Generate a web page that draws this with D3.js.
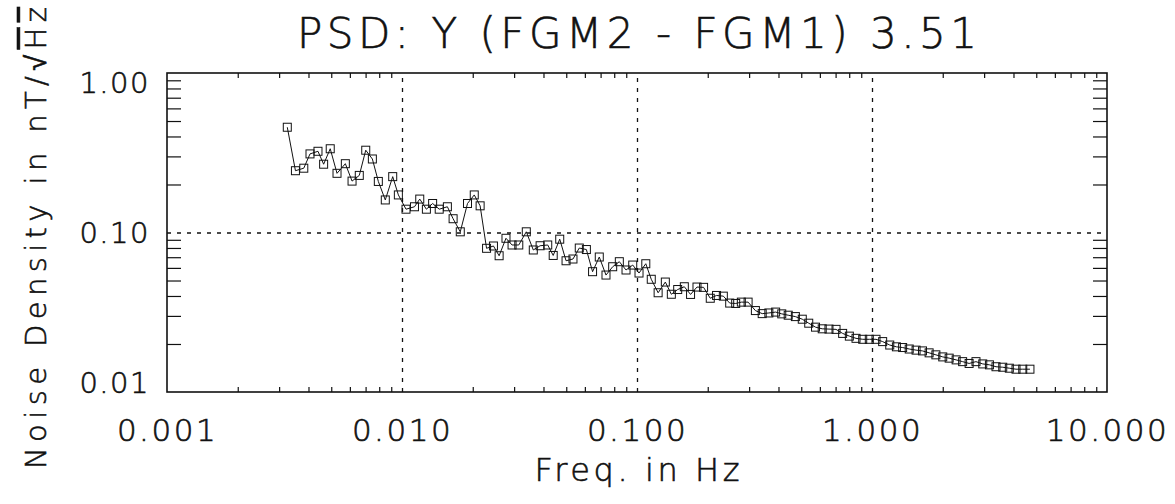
<!DOCTYPE html>
<html>
<head>
<meta charset="utf-8">
<script src="https://cdn.jsdelivr.net/npm/d3@7"></script>
<style>
  html, body { margin: 0; padding: 0; background: #fff; }
  svg { display: block; font-family: "DejaVu Sans", sans-serif; font-weight: 200; }
  svg text { stroke: #111; stroke-width: 0.6px; }
</style>
</head>
<body>
<svg id="chart" width="1175" height="504"></svg>
<script>
// Frequency bins (Hz) of the Y-axis difference spectrum
const freqHz = [
  0.00325, 0.00352, 0.00382, 0.00406, 0.00439, 0.00464, 0.00495, 0.00529, 0.00574, 0.00613,
  0.00658, 0.00701, 0.00748, 0.00793, 0.00849, 0.00913, 0.00965, 0.0104, 0.0113, 0.0119,
  0.0127, 0.0135, 0.0144, 0.0156, 0.0165, 0.0177, 0.0190, 0.0203, 0.0215, 0.0229,
  0.0245, 0.0259, 0.0277, 0.0294, 0.0314, 0.0338, 0.0362, 0.0387, 0.0417, 0.0440,
  0.0469, 0.0499, 0.0534, 0.0568, 0.0609, 0.0647, 0.0691, 0.0738, 0.0788, 0.0841,
  0.0898, 0.0959, 0.102, 0.109, 0.115, 0.123, 0.132, 0.140, 0.149, 0.159,
  0.169, 0.180, 0.192, 0.205, 0.218, 0.233, 0.248, 0.263, 0.278, 0.297,
  0.319, 0.341, 0.364, 0.389, 0.413, 0.440, 0.472, 0.505, 0.538, 0.575,
  0.614, 0.656, 0.703, 0.750, 0.801, 0.855, 0.913, 0.974, 1.04, 1.11,
  1.19, 1.27, 1.35, 1.44, 1.54, 1.64, 1.75, 1.87, 2.00, 2.13,
  2.28, 2.43, 2.59, 2.77, 2.96, 3.16, 3.37, 3.60, 3.84, 4.10,
  4.38, 4.70
];

// Noise density (nT/sqrt(Hz)) of FGM2 - FGM1, one value per bin
const noiseDensity = [
  0.457, 0.244, 0.253, 0.311, 0.323, 0.268, 0.335, 0.235, 0.270, 0.210,
  0.228, 0.328, 0.289, 0.209, 0.160, 0.224, 0.172, 0.140, 0.145, 0.162,
  0.140, 0.152, 0.140, 0.145, 0.122, 0.101, 0.152, 0.172, 0.147, 0.0796,
  0.0823, 0.0715, 0.0920, 0.0835, 0.0835, 0.101, 0.0777, 0.0826, 0.0835, 0.0718,
  0.0908, 0.0665, 0.0682, 0.0799, 0.0782, 0.0568, 0.0702, 0.0541, 0.0610, 0.0656,
  0.0582, 0.0625, 0.0557, 0.0637, 0.0509, 0.0419, 0.0489, 0.0410, 0.0439, 0.0457,
  0.0409, 0.0455, 0.0453, 0.0387, 0.0403, 0.0399, 0.0361, 0.0359, 0.0366, 0.0366,
  0.0324, 0.0310, 0.0313, 0.0317, 0.0309, 0.0303, 0.0297, 0.0286, 0.0270, 0.0255,
  0.0249, 0.0248, 0.0247, 0.0233, 0.0224, 0.0217, 0.0214, 0.0214, 0.0214, 0.0207,
  0.0197, 0.0192, 0.0190, 0.0186, 0.0183, 0.0181, 0.0176, 0.0171, 0.0166, 0.0163,
  0.0159, 0.0155, 0.0151, 0.0155, 0.0150, 0.0148, 0.0144, 0.0143, 0.0141, 0.0139,
  0.0139, 0.0139
];

const xTickValues = [0.001, 0.01, 0.1, 1, 10];
const xTickLabels = ["0.001", "0.010", "0.100", "1.000", "10.000"];
const yTickValues = [0.01, 0.1, 1];
const yTickLabels = ["0.01", "0.10", "1.00"];
const xGridValues = [0.01, 0.1, 1];
const yGridValues = [0.1];

const titleText = "PSD: Y (FGM2 - FGM1) 3.51";
const xTitle = "Freq. in Hz";

(function draw() {
  const svg = d3.select("#chart");
  const pl = 167, pr = 1107, pt = 73, pb = 392;
  const W = pr - pl, H = pb - pt;

  svg.append("rect").attr("width", 1175).attr("height", 504).attr("fill", "#fff");

  const x = d3.scaleLog().domain([0.001, 10]).range([pl, pr]);
  const y = d3.scaleLog().domain([0.01, 1]).range([pb, pt]);

  // minor tick positions: 2..9 within each decade
  function minorTicks(lo, hi) {
    const out = [];
    for (let d = lo; d < hi * 0.999; d *= 10) {
      for (let k = 2; k <= 9; k++) out.push(+(k * d).toPrecision(3));
    }
    return out;
  }
  const xMinor = minorTicks(0.001, 10);
  const yMinor = minorTicks(0.01, 1);

  const ink = "#111";

  // dotted grid at the major decades
  const gridX = svg.append("g").attr("transform", `translate(0,${pb})`)
    .call(d3.axisBottom(x).tickValues(xGridValues).tickSize(-H).tickFormat(""));
  const gridY = svg.append("g").attr("transform", `translate(${pl},0)`)
    .call(d3.axisLeft(y).tickValues(yGridValues).tickSize(-W).tickFormat(""));
  [gridX, gridY].forEach(g => {
    g.select(".domain").remove();
    g.selectAll("line").attr("stroke", ink).attr("stroke-width", 1.3).attr("stroke-dasharray", "4,6");
  });

  // minor ticks on all four sides, pointing inward
  const minorAxes = [
    svg.append("g").attr("transform", `translate(0,${pb})`).call(d3.axisBottom(x).tickValues(xMinor).tickSize(-5).tickFormat("")),
    svg.append("g").attr("transform", `translate(0,${pt})`).call(d3.axisTop(x).tickValues(xMinor).tickSize(-5).tickFormat("")),
    svg.append("g").attr("transform", `translate(${pl},0)`).call(d3.axisLeft(y).tickValues(yMinor).tickSize(-14).tickFormat("")),
    svg.append("g").attr("transform", `translate(${pr},0)`).call(d3.axisRight(y).tickValues(yMinor).tickSize(-14).tickFormat(""))
  ];
  minorAxes.forEach(g => {
    g.select(".domain").remove();
    g.selectAll("line").attr("stroke", ink).attr("stroke-width", 1.2);
  });

  // plot frame
  svg.append("rect")
    .attr("x", pl).attr("y", pt).attr("width", W).attr("height", H)
    .attr("fill", "none").attr("stroke", ink).attr("stroke-width", 1.6);

  // x tick labels
  const xLab = svg.append("g").attr("transform", `translate(0,${pb})`)
    .call(d3.axisBottom(x).tickValues(xTickValues).tickSize(0).tickFormat((d, i) => xTickLabels[i]));
  xLab.select(".domain").remove();
  xLab.selectAll("text")
    .attr("y", 49).attr("dy", null)
    .attr("font-size", 31).attr("letter-spacing", 2.5).attr("fill", ink)
    .attr("font-family", "DejaVu Sans").attr("font-weight", 200);

  // y tick labels
  const yLab = svg.append("g").attr("transform", `translate(${pl},0)`)
    .call(d3.axisLeft(y).tickValues(yTickValues).tickSize(0).tickFormat((d, i) => yTickLabels[i]));
  yLab.select(".domain").remove();
  yLab.selectAll("text")
    .attr("x", -17).attr("font-size", 29).attr("letter-spacing", 1.5).attr("fill", ink)
    .attr("font-family", "DejaVu Sans").attr("font-weight", 200)
    .attr("dy", d => d === 1 ? "0.66em" : d === 0.01 ? "0em" : "0.36em");

  // data: connecting line and open square markers
  const pts = freqHz.map((f, i) => [f, noiseDensity[i]]);
  svg.append("path")
    .datum(pts)
    .attr("fill", "none").attr("stroke", ink).attr("stroke-width", 1)
    .attr("d", d3.line().x(d => x(d[0])).y(d => y(d[1])));
  svg.append("g").selectAll("rect").data(pts).join("rect")
    .attr("x", d => x(d[0]) - 4).attr("y", d => y(d[1]) - 4)
    .attr("width", 8).attr("height", 8)
    .attr("fill", "none").attr("stroke", ink).attr("stroke-width", 1);

  // titles
  svg.append("text")
    .attr("x", (pl + pr) / 2).attr("y", 48)
    .attr("text-anchor", "middle").attr("font-size", 42).attr("fill", ink)
    .attr("textLength", 680).attr("lengthAdjust", "spacing")
    .text(titleText);

  svg.append("text")
    .attr("x", (pl + pr) / 2).attr("y", 481)
    .attr("text-anchor", "middle").attr("font-size", 32).attr("fill", ink)
    .attr("textLength", 205).attr("lengthAdjust", "spacing")
    .text(xTitle);

  const yTitle = svg.append("text")
    .attr("transform", "translate(46,238) rotate(-90)")
    .attr("text-anchor", "middle").attr("font-size", 29).attr("fill", ink)
    .attr("textLength", 462).attr("lengthAdjust", "spacing");
  yTitle.append("tspan").text("Noise Density in nT/\u221A");
  yTitle.append("tspan").attr("text-decoration", "overline").text("Hz");
})();
</script>
</body>
</html>
